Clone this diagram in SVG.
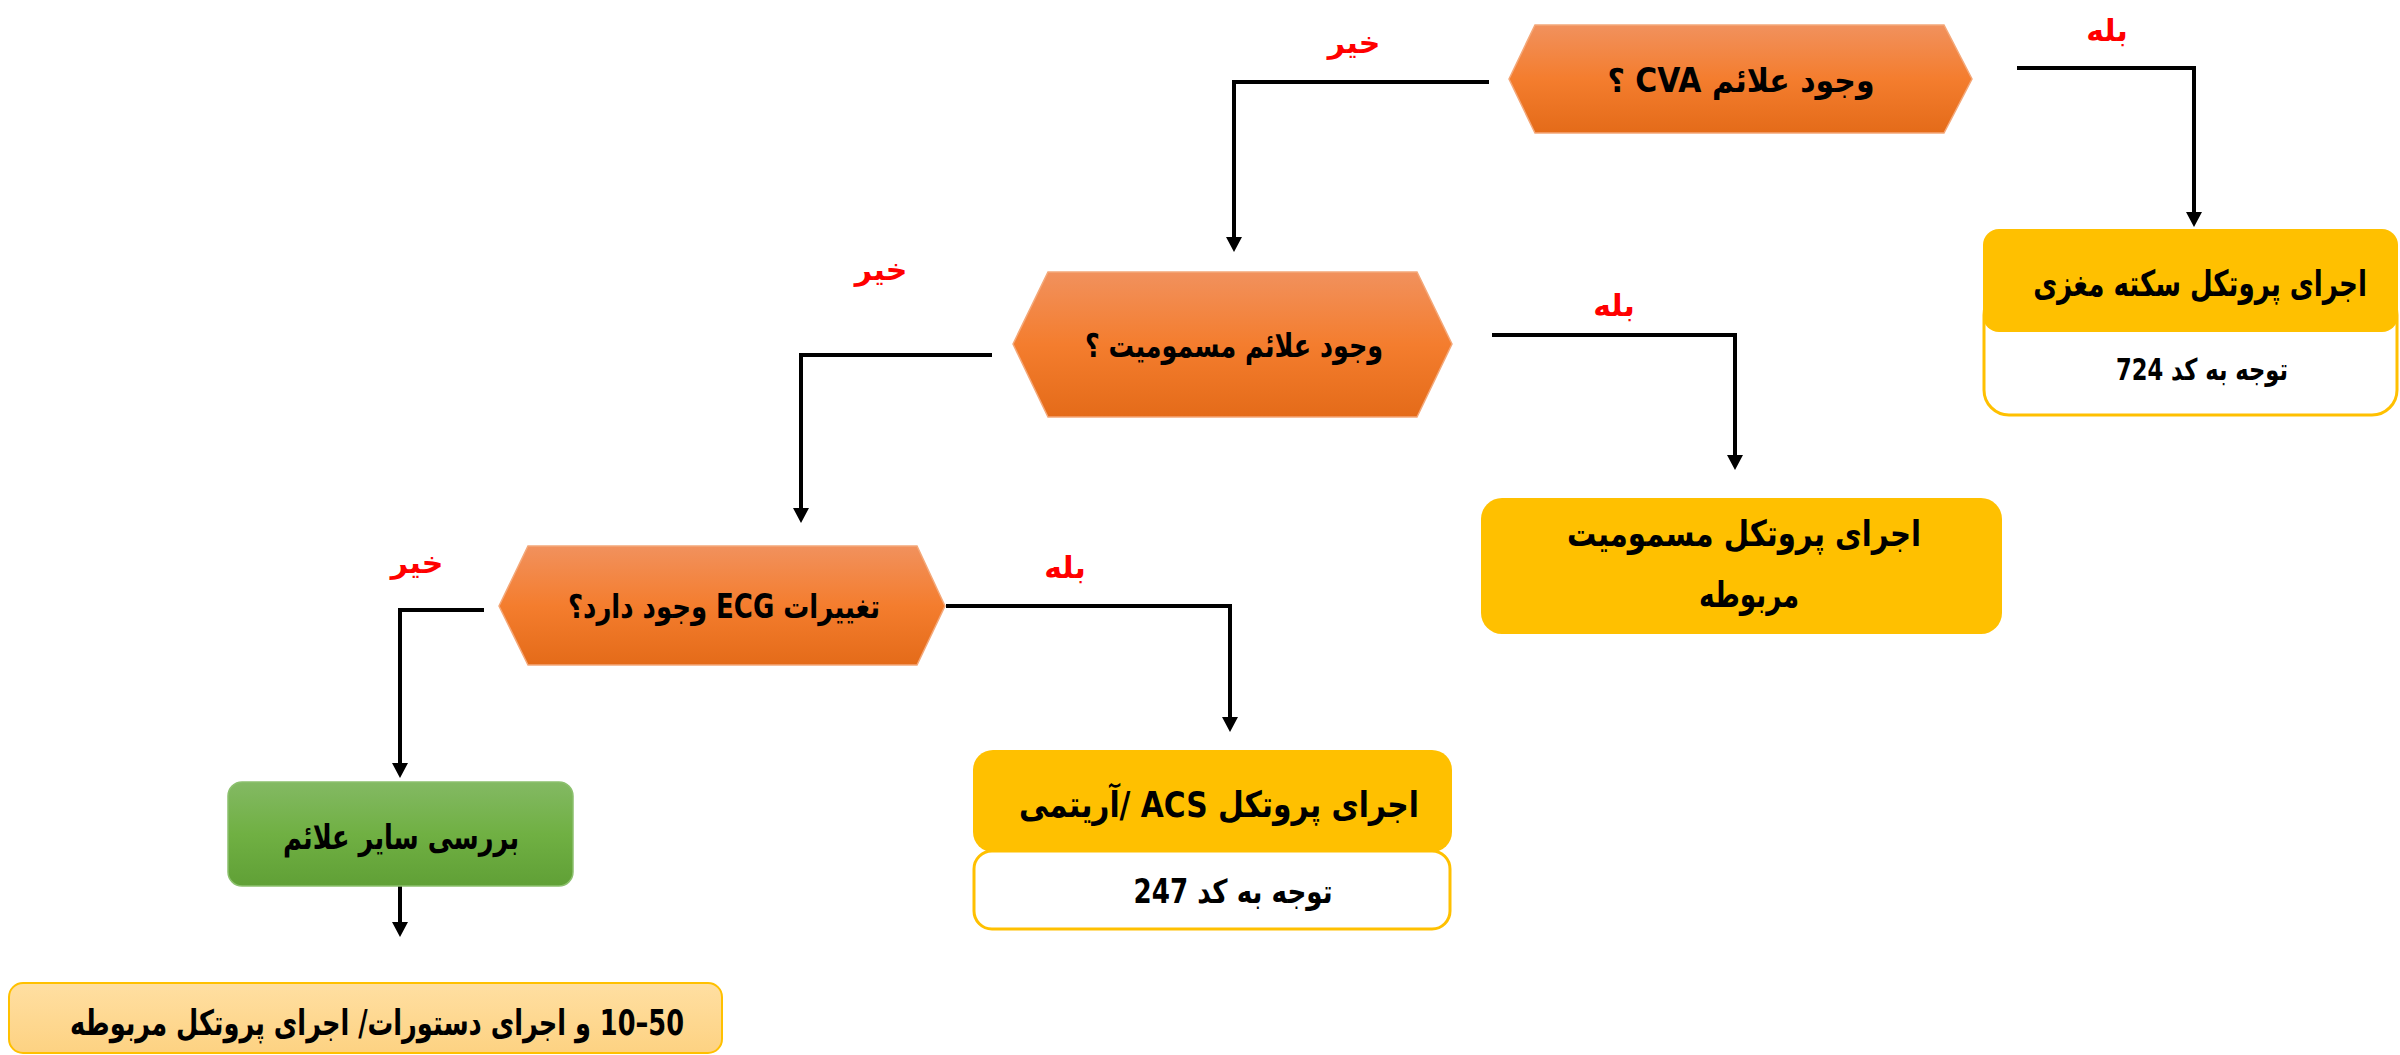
<svg xmlns="http://www.w3.org/2000/svg" width="2400" height="1055" viewBox="0 0 2400 1055">
<defs>
<linearGradient id="gOrange" x1="0" y1="0" x2="0" y2="1">
<stop offset="0" stop-color="#F1915D"/>
<stop offset="0.5" stop-color="#F47D2E"/>
<stop offset="1" stop-color="#E46B19"/>
</linearGradient>
<linearGradient id="gGreen" x1="0" y1="0" x2="0" y2="1">
<stop offset="0" stop-color="#83B963"/>
<stop offset="0.5" stop-color="#70B043"/>
<stop offset="1" stop-color="#60A036"/>
</linearGradient>
<linearGradient id="gLight" x1="0" y1="0" x2="0" y2="1">
<stop offset="0" stop-color="#FFDFA2"/>
<stop offset="1" stop-color="#FDD282"/>
</linearGradient>
<marker id="arr" markerUnits="userSpaceOnUse" markerWidth="18" markerHeight="18" refX="0" refY="8" orient="auto">
<path d="M0,0 L15,8 L0,16 Z" fill="#000"/>
</marker>
<style>
.hex{fill:url(#gOrange);stroke:#F4A879;stroke-width:1.5}
.t{font-family:"DejaVu Sans",sans-serif;font-weight:bold;fill:#000;direction:rtl;text-anchor:middle}
.lbl{font-family:"DejaVu Sans",sans-serif;font-weight:bold;fill:#FF0000;direction:rtl;text-anchor:middle;font-size:30px}
.conn{fill:none;stroke:#000;stroke-width:4;marker-end:url(#arr)}
.yel{fill:#FFC000}
.body{fill:#FFFFFF;stroke:#FFC000;stroke-width:3}
</style>
</defs>
<rect width="2400" height="1055" fill="#FFFFFF"/>

<g id="connectors">
<path class="conn" d="M1489,82 H1234 V237"/>
<path class="conn" d="M2017,68 H2194 V212"/>
<path class="conn" d="M992,355 H801 V508"/>
<path class="conn" d="M1492,335 H1735 V455"/>
<path class="conn" d="M484,610 H400 V763"/>
<path class="conn" d="M946,606 H1230 V717"/>
<path class="conn" d="M400,886 V922"/>
</g>

<g id="labels">
<text class="lbl" x="1354" y="53">خیر</text>
<text class="lbl" x="2107" y="41">بله</text>
<text class="lbl" x="881" y="280">خیر</text>
<text class="lbl" x="1614" y="316">بله</text>
<text class="lbl" x="417" y="573">خیر</text>
<text class="lbl" x="1065" y="578">بله</text>
</g>

<g id="q-cva">
<polygon class="hex" points="1509,79 1535,25 1944,25 1972,79 1944,133 1535,133"/>
<text class="t" x="1741" y="92" font-size="33" textLength="267" lengthAdjust="spacingAndGlyphs">وجود علائم CVA ؟</text>
</g>

<g id="q-poison">
<polygon class="hex" points="1013,344 1048,272 1417,272 1452,344 1417,417 1048,417"/>
<text class="t" x="1234" y="357" font-size="33" textLength="298" lengthAdjust="spacingAndGlyphs">وجود علائم مسمومیت ؟</text>
</g>

<g id="q-ecg">
<polygon class="hex" points="499,606 528,546 917,546 945,606 917,665 528,665"/>
<text class="t" x="724" y="618" font-size="33" textLength="312" lengthAdjust="spacingAndGlyphs">تغییرات ECG وجود دارد؟</text>
</g>

<g id="stroke-protocol">
<rect class="body" x="1984" y="290" width="413" height="125" rx="25"/>
<rect class="yel" x="1983" y="229" width="415" height="103" rx="16"/>
<text class="t" transform="translate(2200 296) scale(0.75 1)" x="0" y="0" font-size="36" textLength="445" lengthAdjust="spacingAndGlyphs">اجرای پروتکل سکته مغزی</text>
<text class="t" x="2202" y="380" font-size="30" textLength="172" lengthAdjust="spacingAndGlyphs">توجه به کد 724</text>
</g>

<g id="poison-protocol">
<rect class="yel" x="1481" y="498" width="521" height="136" rx="21"/>
<text class="t" x="1744" y="546" font-size="36" textLength="354" lengthAdjust="spacingAndGlyphs">اجرای پروتکل مسمومیت</text>
<text class="t" x="1749" y="607" font-size="36" textLength="100" lengthAdjust="spacingAndGlyphs">مربوطه</text>
</g>

<g id="acs-protocol">
<rect class="yel" x="973" y="750" width="479" height="102" rx="20"/>
<rect class="body" x="974" y="851" width="476" height="78" rx="18"/>
<text class="t" x="1219" y="817" font-size="36" textLength="400" lengthAdjust="spacingAndGlyphs">اجرای پروتکل ACS /آریتمی</text>
<text class="t" x="1233" y="903" font-size="33" textLength="199" lengthAdjust="spacingAndGlyphs">توجه به کد 247</text>
</g>

<g id="other-signs">
<rect x="228" y="782" width="345" height="104" rx="14" fill="url(#gGreen)" stroke="#8CC06E" stroke-width="1.5"/>
<text class="t" x="401" y="849" font-size="34" textLength="236" lengthAdjust="spacingAndGlyphs">بررسی سایر علائم</text>
</g>

<g id="orders">
<rect x="9" y="983" width="713" height="70" rx="14" fill="url(#gLight)" stroke="#FFC000" stroke-width="2"/>
<text class="t" x="377" y="1035" font-size="35" textLength="614" lengthAdjust="spacingAndGlyphs">10&#x200E;–50 و اجرای دستورات/ اجرای پروتکل مربوطه</text>
</g>
</svg>
